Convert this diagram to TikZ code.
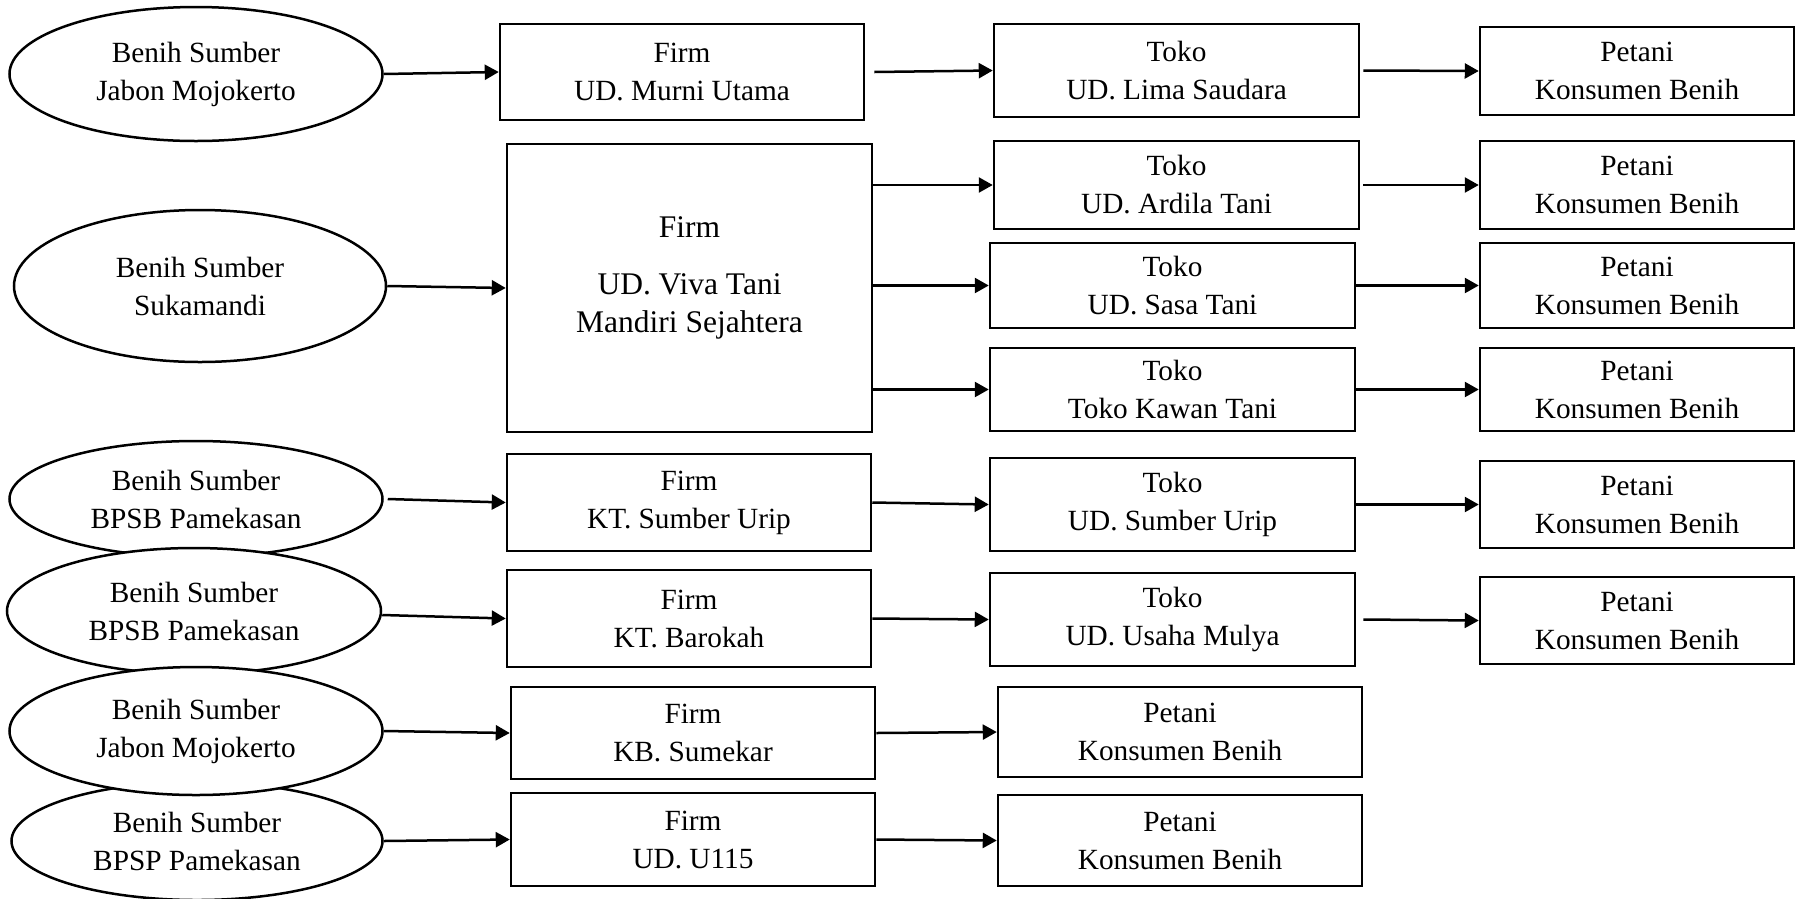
\documentclass[tikz,border=0pt]{standalone}
\usepackage{fontspec}
\setmainfont{Liberation Serif}
\usetikzlibrary{arrows.meta,shapes.geometric}
\tikzset{
  every node/.style={font=\fontsize{29.3}{38}\selectfont, align=center, inner sep=0pt},
  src/.style={draw, ellipse, line width=2.5pt, fill=white},
  box/.style={draw, rectangle, line width=2.5pt, fill=white},
  arr/.style={line width=2.5pt, -{Triangle[length=14pt,width=15pt]}},
}
\begin{document}
\begin{tikzpicture}[x=1pt,y=-1pt]
\useasboundingbox (0,0) rectangle (1795,898);
% sources
\node[src, minimum width=373, minimum height=134] (e1) at (196,74) {Benih Sumber\\Jabon Mojokerto};
\node[src, minimum width=372, minimum height=152] (e2) at (200,286) {Benih Sumber\\Sukamandi};
\node[src, minimum width=373, minimum height=116] (e3) at (196,499) {Benih Sumber\\BPSB Pamekasan};
\node[src, minimum width=374, minimum height=126] (e4) at (194,611) {Benih Sumber\\BPSB Pamekasan};
\node[src, minimum width=371, minimum height=118] (e6) at (197,841) {Benih Sumber\\BPSP Pamekasan};
\node[src, minimum width=373, minimum height=128] (e5) at (196,731) {Benih Sumber\\Jabon Mojokerto};
% firms
\node[box, minimum width=364, minimum height=96] (f1) at (682,72) {Firm\\UD. Murni Utama};
\node[box, minimum width=365, minimum height=288] (big) at (689.5,288) {};
\node (bigtext) at (689.5,278) {\fontsize{31.5}{38}\selectfont Firm\\[19pt]\fontsize{31.5}{38}\selectfont UD. Viva Tani\\\fontsize{31.5}{38}\selectfont Mandiri Sejahtera};
\node[box, minimum width=364, minimum height=97] (f3) at (689,502.5) {Firm\\KT. Sumber Urip};
\node[box, minimum width=364, minimum height=97] (f4) at (689,618.5) {Firm\\KT. Barokah};
\node[box, minimum width=364, minimum height=92] (f5) at (693,733) {Firm\\KB. Sumekar};
\node[box, minimum width=364, minimum height=93] (f6) at (693,839.5) {Firm\\UD. U115};
% toko
\node[box, minimum width=365, minimum height=93] (t1) at (1176.5,70.5) {Toko\\UD. Lima Saudara};
\node[box, minimum width=365, minimum height=88] (t2) at (1176.5,185) {Toko\\UD. Ardila Tani};
\node[box, minimum width=365, minimum height=85] (t3) at (1172.5,285.5) {Toko\\UD. Sasa Tani};
\node[box, minimum width=365, minimum height=83] (t4) at (1172.5,389.5) {Toko\\Toko Kawan Tani};
\node[box, minimum width=365, minimum height=93] (t5) at (1172.5,504.5) {Toko\\UD. Sumber Urip};
\node[box, minimum width=365, minimum height=93] (t6) at (1172.5,619.5) {Toko\\UD. Usaha Mulya};
\node[box, minimum width=364, minimum height=90] (q5) at (1180,732) {Petani\\Konsumen Benih};
\node[box, minimum width=364, minimum height=91] (q6) at (1180,840.5) {Petani\\Konsumen Benih};
% petani
\node[box, minimum width=314, minimum height=88] (p1) at (1637,71) {Petani\\Konsumen Benih};
\node[box, minimum width=314, minimum height=88] (p2) at (1637,185) {Petani\\Konsumen Benih};
\node[box, minimum width=314, minimum height=85] (p3) at (1637,285.5) {Petani\\Konsumen Benih};
\node[box, minimum width=314, minimum height=83] (p4) at (1637,389.5) {Petani\\Konsumen Benih};
\node[box, minimum width=314, minimum height=87] (p5) at (1637,504.5) {Petani\\Konsumen Benih};
\node[box, minimum width=314, minimum height=87] (p6) at (1637,620.5) {Petani\\Konsumen Benih};
% arrows: sources -> firms
\draw[arr] (e1.east) -- (f1.west);
\draw[arr] (e2.east) -- (big.west);
\draw[arr] ([xshift=4pt]e3.east) -- (f3.west);
\draw[arr] ([yshift=-4pt]e4.east) -- (f4.west);
\draw[arr] (e5.east) -- (f5.west);
\draw[arr] (e6.east) -- (f6.west);
% firms -> toko
\draw[arr] ([xshift=9pt]f1.east) -- (t1.west);
\draw[arr] (big.east |- t2.west) -- (t2.west);
\draw[arr] (big.east |- t3.west) -- (t3.west);
\draw[arr] (big.east |- t4.west) -- (t4.west);
\draw[arr] (f3.east) -- (t5.west);
\draw[arr] (f4.east) -- (t6.west);
\draw[arr] (f5.east) -- (q5.west);
\draw[arr] (f6.east) -- (q6.west);
% toko -> petani
\draw[arr] ([xshift=3pt]t1.east) -- (p1.west);
\draw[arr] ([xshift=3pt]t2.east) -- (p2.west);
\draw[arr] (t3.east) -- (p3.west);
\draw[arr] (t4.east) -- (p4.west);
\draw[arr] (t5.east) -- (p5.west);
\draw[arr] ([xshift=7pt]t6.east) -- (p6.west);
\end{tikzpicture}
\end{document}
